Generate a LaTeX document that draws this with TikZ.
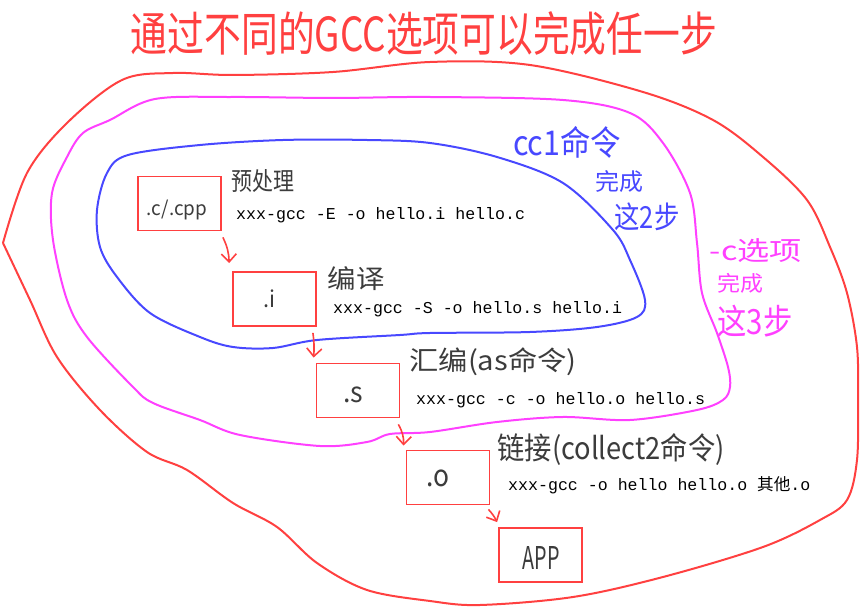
\documentclass[tikz,border=0pt]{standalone}
\usepackage{fontspec}
\usepackage{graphicx}
\newfontfamily\cjk{Noto Sans CJK SC}
\newfontfamily\codefont{Liberation Mono}
\usetikzlibrary{arrows.meta}
\definecolor{hred}{RGB}{255,64,64}
\definecolor{hblue}{RGB}{72,72,255}
\definecolor{hmag}{RGB}{255,64,255}
\definecolor{hgray}{RGB}{60,60,60}
\newcommand{\hw}[3]{\resizebox*{#1pt}{#2pt}{#3}}
\begin{document}
\begin{tikzpicture}[x=1pt,y=-1pt,
  filebox/.style={draw=hred, line width=1.8pt, minimum width=83pt, minimum height=54pt, inner sep=0pt},
  cmd/.style={anchor=base west, inner sep=0pt, font=\codefont\fontsize{16.6}{20}\selectfont},
  hand/.style={inner sep=0pt, text=hgray, font=\cjk},
  flow/.style={draw=hred, line width=1.6pt, -{Straight Barb[length=8pt,width=15pt,line width=1.6pt]}},
  outerline/.style={draw=hred, line width=2pt, line join=round},
  midline/.style={draw=hmag, line width=2pt},
  innerline/.style={draw=hblue, line width=2pt}]
\useasboundingbox (0,0) rectangle (860,609);

% enclosing curves
\draw[outerline] plot[smooth, tension=0.55] coordinates {
 (3,243) (27,173) (67,123) (122,80) (173,73) (233,75) (333,72) (430,62)
 (530,65) (643,92) (713,120) (763,157) (807,200) (830,247) (847,293)
 (857,347) (858,400) (857,460) (847,500) (820,520) (763,547) (663,577)
 (573,597) (480,605) (430,601) (367,590) (317,563) (277,527) (233,503)
 (187,470) (147,452) (100,410) (57,357) (30,300) (3,243)};
\draw[midline] plot[smooth cycle, tension=0.55] coordinates {
 (110,120) (155,99) (233,97) (333,98) (430,97) (563,100) (630,113) (663,143)
 (690,193) (697,243) (702,293) (717,333) (728,367) (730,387) (723,400)
 (697,410) (630,420) (563,417) (497,422) (430,432) (390,434) (367,442)
 (320,446) (240,435) (200,420) (153,403) (133,387) (87,337) (67,300)
 (53,240) (52,193) (67,157) (83,133)};
\draw[innerline] plot[smooth cycle, tension=0.55] coordinates {
 (128,155) (200,145) (283,140) (367,140) (430,143) (497,157) (563,183)
 (613,230) (630,260) (645,300) (637,317) (597,327) (530,332) (430,333)
 (400,335) (317,340) (273,348) (233,347) (200,337) (150,313) (117,277)
 (100,247) (97,210) (107,173)};

% title
\node[hand, text=hred] (title) at (424,34) {\hw{586}{44}{通过不同的GCC选项可以完成任一步}};

% file boxes
\node[filebox] (src) at (179.5,203.5) {};
\node[filebox] (ifile) at (274.5,299) {};
\node[filebox] (sfile) at (358,390.5) {};
\node[filebox] (ofile) at (448,477.5) {};
\node[filebox] (app) at (540.5,555) {};

\node[hand] (tsrc) at (177,210) {\hw{60}{20}{.c/.cpp}};
\node[hand] (ti) at (269,299) {\hw{12}{18}{.i}};
\node[hand] (ts) at (353,395) {\hw{20}{16}{.s}};
\node[hand] (to) at (438,478) {\hw{23}{17}{.o}};
\node[hand] (tapp) at (541,558) {\hw{37}{23}{APP}};

% step labels
\node[hand] (lpre) at (263,181) {\hw{63}{23}{预处理}};
\node[hand] (lcomp) at (356,279) {\hw{57}{24}{编译}};
\node[hand] (lasm) at (493,362) {\hw{167}{28}{汇编(as命令)}};
\node[hand] (llink) at (611,449) {\hw{227}{32}{链接(collect2命令)}};

% commands
\node[cmd] (c1) at (236,220) {xxx-gcc -E -o hello.i hello.c};
\node[cmd] (c2) at (333,314) {xxx-gcc -S -o hello.s hello.i};
\node[cmd] (c3) at (416,405) {xxx-gcc -c -o hello.o hello.s};
\node[cmd] (c4) at (508,491) {xxx-gcc -o hello hello.o {\cjk 其他}.o};

% side notes
\node[hand, text=hblue] (n1a) at (567,142) {\hw{108}{32}{cc1命令}};
\node[hand, text=hblue] (n1b) at (619,182) {\hw{48}{22}{完成}};
\node[hand, text=hblue] (n1c) at (647,217) {\hw{65}{28}{这2步}};
\node[hand, text=hmag] (n2a) at (756,251) {\hw{92}{24}{-c选项}};
\node[hand, text=hmag] (n2b) at (740,283) {\hw{46}{20}{完成}};
\node[hand, text=hmag] (n2c) at (755,321) {\hw{75}{32}{这3步}};

% flow arrows
\draw[flow] ([shift={(1,6)}]src.south east) to[bend left=12] ([shift={(-3,-8)}]ifile.north west);
\draw[flow] ([shift={(-4,6)}]ifile.south east) to[bend left=6] ([shift={(-2,-5)}]sfile.north west);
\draw[flow] ([shift={(-2,6)}]sfile.south east) to[bend left=15] ([shift={(-2,-4)}]ofile.north west);
\draw[flow] ([shift={(-2,4)}]ofile.south east) to[bend left=8] ([shift={(-1,-5)}]app.north west);
\end{tikzpicture}
\end{document}
